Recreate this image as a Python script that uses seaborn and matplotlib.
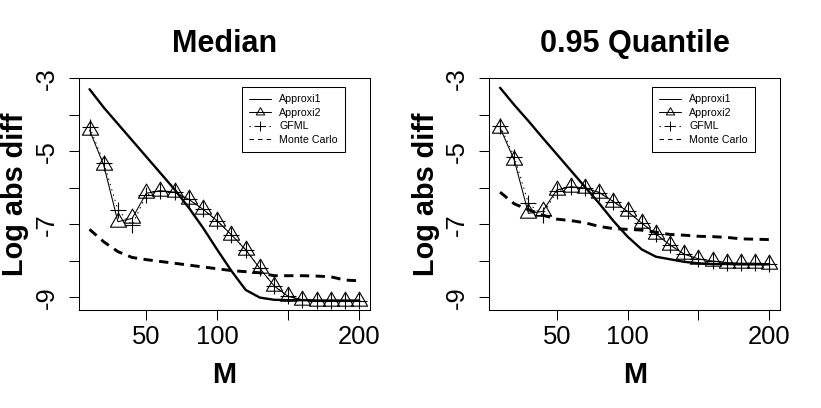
import numpy as np
import pandas as pd
import seaborn as sns
import matplotlib.pyplot as plt
from matplotlib.lines import Line2D
from matplotlib.path import Path

# sample sizes on the x axis
m_values = [10, 20, 30, 40, 50, 60, 70, 80, 90, 100,
            110, 120, 130, 140, 150, 160, 170, 180, 190, 200]

# left panel: median
median_approxi1 = [-3.30, -3.80, -4.25, -4.70, -5.15, -5.60, -6.05, -6.55, -7.10, -7.70,
                   -8.28, -8.80, -9.01, -9.07, -9.08, -9.08, -9.09, -9.09, -9.09, -9.09]
median_approxi2 = [-4.42, -5.38, -6.93, -6.84, -6.15, -6.08, -6.12, -6.32, -6.59, -6.91,
                   -7.29, -7.70, -8.21, -8.69, -8.98, -9.07, -9.09, -9.10, -9.10, -9.10]
median_gfml = [-4.33, -5.31, -6.61, -7.02, -6.20, -6.08, -6.12, -6.32, -6.59, -6.91,
               -7.29, -7.70, -8.21, -8.69, -8.98, -9.07, -9.09, -9.10, -9.10, -9.10]
median_mc = [-7.14, -7.48, -7.75, -7.91, -7.97, -8.02, -8.07, -8.12, -8.17, -8.22,
             -8.27, -8.30, -8.33, -8.41, -8.41, -8.41, -8.42, -8.44, -8.53, -8.55]

# right panel: 0.95 quantile
q95_approxi1 = [-3.26, -3.73, -4.17, -4.63, -5.08, -5.53, -5.98, -6.43, -6.91, -7.34,
                -7.69, -7.89, -7.96, -8.03, -8.07, -8.09, -8.09, -8.10, -8.10, -8.10]
q95_approxi2 = [-4.36, -5.24, -6.70, -6.65, -6.06, -5.97, -6.01, -6.13, -6.38, -6.65,
                -6.97, -7.27, -7.57, -7.82, -7.95, -8.01, -8.05, -8.07, -8.07, -8.08]
q95_gfml = [-4.30, -5.15, -6.43, -6.75, -6.10, -5.97, -6.01, -6.13, -6.38, -6.65,
            -6.97, -7.27, -7.57, -7.82, -7.95, -8.01, -8.05, -8.07, -8.07, -8.08]
q95_mc = [-6.12, -6.44, -6.60, -6.75, -6.86, -6.90, -6.96, -7.06, -7.12, -7.14,
          -7.16, -7.22, -7.28, -7.30, -7.33, -7.34, -7.36, -7.40, -7.41, -7.42]

panel_titles = ["Median", "0.95 Quantile"]
legend_labels = ["Approxi1", "Approxi2", "GFML", "Monte Carlo"]
x_ticks = [50, 100, 200]
x_minor_ticks = [150]
y_ticks = [-9, -7, -5, -3]
y_minor_ticks = [-8, -6, -4]

sns.set_theme(style="ticks")
plt.rcParams["font.family"] = ["Liberation Sans", "DejaVu Sans"]
plt.rcParams["axes.unicode_minus"] = False
for key in ["text.color", "axes.labelcolor", "xtick.color", "ytick.color", "axes.edgecolor"]:
    plt.rcParams[key] = "black"

# R style triangle (pch = 2), centred on its centroid
TRIANGLE = Path([(0, 1.555), (-1.347, -0.778), (1.347, -0.778), (0, 1.555)], closed=True)


def draw_panel(ax, title, approxi1, approxi2, gfml, mc):
    df = pd.DataFrame({"M": m_values, "Approxi1": approxi1, "Approxi2": approxi2,
                       "GFML": gfml, "Monte Carlo": mc})

    sns.lineplot(data=df, x="M", y="Monte Carlo", ax=ax, color="black", lw=2.1,
                 linestyle=(0, (3.2, 2.2)), errorbar=None)
    sns.lineplot(data=df, x="M", y="Approxi1", ax=ax, color="black", lw=1.7, errorbar=None)
    sns.lineplot(data=df, x="M", y="GFML", ax=ax, color="black", lw=0.75,
                 linestyle=(0, (1.3, 4)), marker="+", markersize=12,
                 mec="black", mew=0.8, errorbar=None)
    sns.lineplot(data=df, x="M", y="Approxi2", ax=ax, color="black", lw=0.75,
                 marker=TRIANGLE, markersize=13.5, mfc="none", mec="black", mew=0.8,
                 errorbar=None)

    ax.set_xlim(2.4, 207.6)
    ax.set_ylim(-9.35, -3.0)
    ax.set_xticks(x_ticks)
    ax.set_xticks(x_minor_ticks, minor=True)
    ax.set_yticks(y_ticks)
    ax.set_yticks(y_minor_ticks, minor=True)
    ax.tick_params(which="both", direction="out", length=7.2, width=0.75, color="black")
    ax.tick_params(axis="x", labelsize=18.4, pad=3.5, labelcolor="black")
    ax.tick_params(axis="y", labelsize=18.4, pad=7.4, labelrotation=90, labelcolor="black")
    for lab in ax.get_yticklabels():
        lab.set_va("center")
    for sp in ax.spines.values():
        sp.set_visible(True)
        sp.set_color("black")
        sp.set_linewidth(0.75)

    ax.set_title(title, fontsize=22, fontweight="bold", pad=19, color="black")
    ax.set_xlabel("M", fontsize=20.8, fontweight="bold", color="black")
    ax.set_ylabel("Log abs diff", fontsize=20.8, fontweight="bold", color="black")
    ax.xaxis.set_label_coords(0.5, -0.222)
    ax.yaxis.set_label_coords(-0.170, 0.5)

    handles = [
        Line2D([], [], color="black", lw=0.75),
        Line2D([], [], color="black", lw=0.75, marker=TRIANGLE, markersize=7,
               mfc="none", mec="black", mew=0.7),
        Line2D([], [], color="black", lw=0.75, linestyle=(0, (1.3, 3.5)), marker="+",
               markersize=7, mec="black", mew=0.7),
        Line2D([], [], color="black", lw=0.75, linestyle=(0, (4.3, 3.9))),
    ]
    leg = ax.legend(handles, legend_labels, loc="upper right",
                    bbox_to_anchor=(0.913, 0.961), borderaxespad=0,
                    fontsize=7.7, frameon=True, fancybox=False, shadow=False,
                    handlelength=2.0, handletextpad=0.8, labelspacing=0.33,
                    borderpad=0.65)
    frame = leg.get_frame()
    frame.set_edgecolor("black")
    frame.set_linewidth(0.75)
    frame.set_alpha(1)
    for txt in leg.get_texts():
        txt.set_color("black")


fig = plt.figure(figsize=(8.21, 4.08), dpi=100)
ax_left = fig.add_axes([0.0959, 0.2402, 0.3548, 0.5679])
ax_right = fig.add_axes([0.5960, 0.2402, 0.3541, 0.5679])

draw_panel(ax_left, panel_titles[0], median_approxi1, median_approxi2, median_gfml, median_mc)
draw_panel(ax_right, panel_titles[1], q95_approxi1, q95_approxi2, q95_gfml, q95_mc)

fig.savefig("out.png", dpi=100, facecolor="white")
